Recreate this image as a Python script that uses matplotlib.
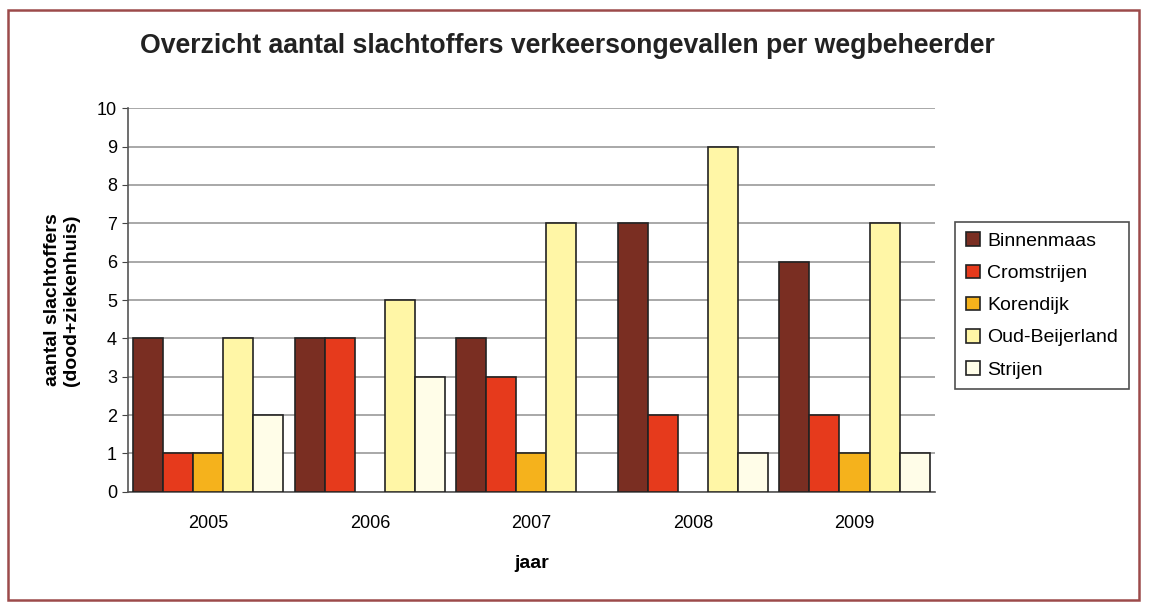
import matplotlib.pyplot as plt
import numpy as np
from matplotlib.patches import Rectangle

plt.rcParams['font.family'] = ['Liberation Sans', 'DejaVu Sans']

# data
years = ['2005', '2006', '2007', '2008', '2009']
binnenmaas = [4, 4, 4, 7, 6]
cromstrijen = [1, 4, 3, 2, 2]
korendijk = [1, 0, 1, 0, 1]
oud_beijerland = [4, 5, 7, 9, 7]
strijen = [2, 3, 0, 1, 1]

series = [
    ('Binnenmaas', binnenmaas, '#7a2e22'),
    ('Cromstrijen', cromstrijen, '#e63a1c'),
    ('Korendijk', korendijk, '#f5b21c'),
    ('Oud-Beijerland', oud_beijerland, '#fff6a6'),
    ('Strijen', strijen, '#fffde8'),
]

fig = plt.figure(figsize=(11.49, 6.11), dpi=100)
ax = fig.add_axes([0.111, 0.195, 0.703, 0.628])

x = np.arange(len(years))
w = 0.186
for i, (name, vals, col) in enumerate(series):
    bars = ax.bar(x + (i - 2) * w, vals, w, color=col, edgecolor='#222222',
                  linewidth=1.2, label=name, zorder=3)
    # empty bars are not drawn in the original
    for b, v in zip(bars, vals):
        if v == 0:
            b.set_visible(False)

ax.set_xlim(-0.5, len(years) - 0.5)
ax.set_ylim(0, 10)
ax.set_yticks(range(0, 11))
ax.set_xticks(x)
ax.set_xticklabels(years)
ax.tick_params(axis='both', labelsize=13, length=4, color='#444444')
ax.tick_params(axis='x', length=0, pad=17)
ax.grid(axis='y', color='#999999', linewidth=1.2, zorder=0)
for s in ['top', 'right']:
    ax.spines[s].set_visible(False)
ax.spines['left'].set_color('#555555')
ax.spines['bottom'].set_color('#555555')
ax.spines['left'].set_linewidth(1.2)
ax.spines['bottom'].set_linewidth(1.2)

ax.set_xlabel('jaar', fontsize=14, fontweight='bold', labelpad=16)
ax.set_ylabel('aantal slachtoffers\n(dood+ziekenhuis)', fontsize=14,
              fontweight='bold', labelpad=12)

fig.text(0.494, 0.925, 'Overzicht aantal slachtoffers verkeersongevallen per wegbeheerder',
         ha='center', va='center', fontsize=19.2, fontweight='bold', color='#222222')

leg = fig.legend(loc='center left', bbox_to_anchor=(0.823, 0.50), fontsize=14,
                 frameon=True, fancybox=False, edgecolor='#222222',
                 handlelength=0.7, handleheight=0.7, handletextpad=0.4,
                 labelspacing=0.75, borderpad=0.55)
leg.get_frame().set_linewidth(1.2)

# outer border of the chart area
fig.patches.append(Rectangle((0.007, 0.018), 0.984, 0.965, transform=fig.transFigure,
                             fill=False, edgecolor='#9c4a4a', linewidth=1.8))

fig.savefig('out.png', dpi=100)
